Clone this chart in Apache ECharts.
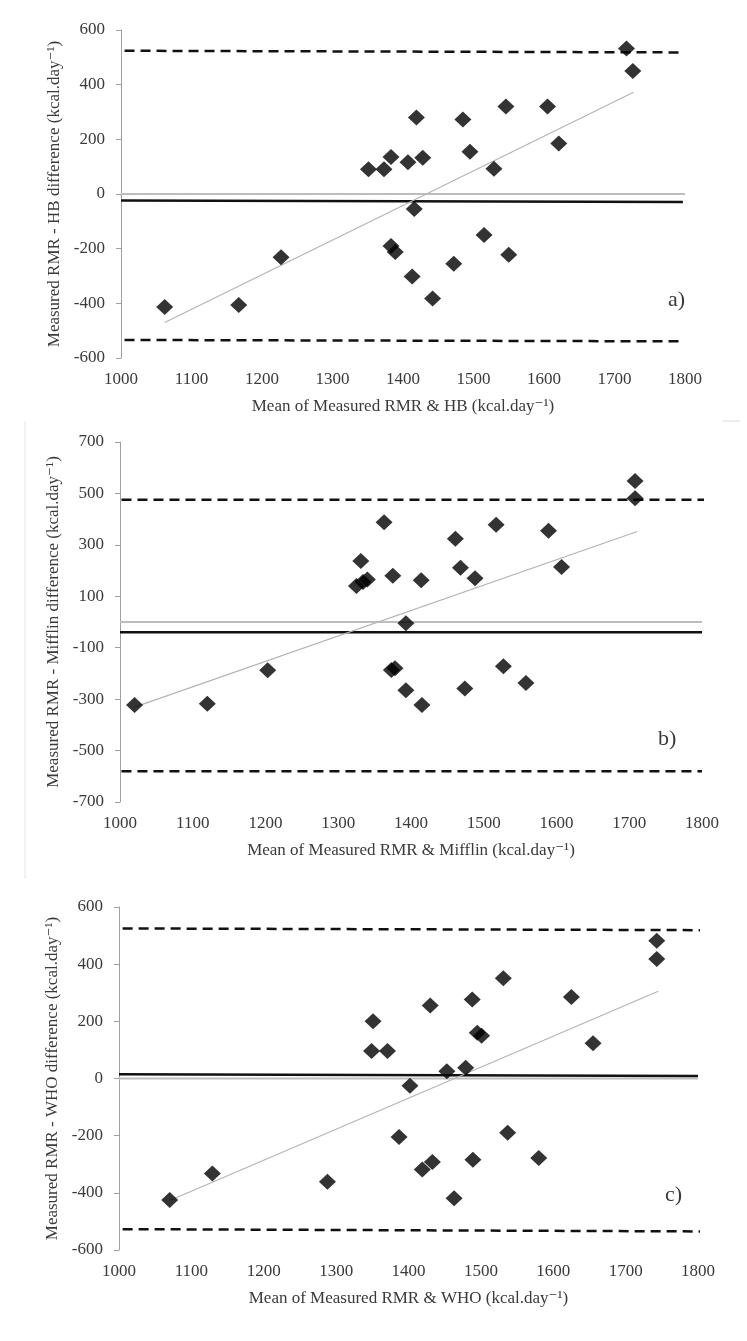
<!DOCTYPE html>
<html>
<head>
<meta charset="utf-8">
<script src="https://cdn.jsdelivr.net/npm/echarts@6/dist/echarts.min.js"></script>
<style>
html,body{margin:0;padding:0;background:#fff;}
#chart{width:747px;height:1341px;}
</style>
</head>
<body>
<div id="chart"></div>
<script>
// ---------- data ----------
// Panel a) Harris-Benedict
const hbMean = [1062,1167,1227,1351,1373,1383,1407,1419,1428,1416,1383,1389,1413,1442,1472,1485,1495,1515,1529,1546,1550,1605,1621,1717,1726];
const hbDiff = [-413,-406,-231,91,91,135,116,280,133,-55,-190,-212,-302,-382,-255,273,155,-150,92,320,-222,320,185,532,450];
const hbBias  = [[1000,-24],[1797,-29]];
const hbUpper = [[1005,524],[1793,518]];
const hbLower = [[1005,-534],[1793,-539]];
const hbTrend = [[1062,-470],[1727,372]];

// Panel b) Mifflin
const mifMean = [1020,1120,1203,1325,1331,1334,1340,1363,1375,1373,1378,1393,1393,1414,1415,1461,1468,1474,1488,1517,1527,1558,1589,1607,1708,1708];
const mifDiff = [-323,-318,-188,140,237,156,165,388,180,-187,-180,-5,-265,162,-323,324,211,-259,170,378,-172,-237,355,214,548,481];
const mifBias  = [[1000,-40],[1800,-40]];
const mifUpper = [[1002,475],[1808,475]];
const mifLower = [[1002,-580],[1800,-580]];
const mifTrend = [[1020,-331],[1711,352]];

// Panel c) WHO
const whoMean = [1070,1129,1288,1349,1351,1371,1387,1402,1419,1433,1430,1453,1463,1479,1488,1489,1495,1501,1531,1537,1580,1625,1655,1743,1743];
const whoDiff = [-425,-332,-361,96,200,96,-205,-25,-318,-292,255,25,-419,38,276,-284,160,150,351,-190,-278,285,123,482,418];
const whoBias  = [[1000,15],[1800,9]];
const whoUpper = [[1005,525],[1803,519]];
const whoLower = [[1005,-527],[1803,-535]];
const whoTrend = [[1070,-427],[1745,305]];

const zeroLine = [[1000,0],[1800,0]];

const xTitles = [
  'Mean of Measured RMR & HB (kcal.day\u207B\u00B9)',
  'Mean of Measured RMR & Mifflin (kcal.day\u207B\u00B9)',
  'Mean of Measured RMR & WHO (kcal.day\u207B\u00B9)'
];
const yTitles = [
  'Measured RMR - HB difference (kcal.day\u207B\u00B9)',
  'Measured RMR - Mifflin difference (kcal.day\u207B\u00B9)',
  'Measured RMR - WHO difference (kcal.day\u207B\u00B9)'
];
const panelLabels = ['a)','b)','c)'];
const yRanges = [[-600,600],[-700,700],[-600,600]];

// ---------- chart ----------
const FONT = '"Liberation Serif","DejaVu Serif",serif';
const TXT = '#3a3a3a';
const grids = [
  {left:121, width:564, top:30, height:328},
  {left:120, width:582, top:442, height:360},
  {left:119, width:579, top:907, height:343}
];

const xAxes = grids.map((g,i)=>({
  type:'value', gridIndex:i, min:1000, max:1800, interval:100,
  axisLine:{show:false}, axisTick:{show:false}, splitLine:{show:false},
  axisLabel:{color:TXT, fontFamily:FONT, fontSize:17, margin:13, formatter:v=>String(v)},
  name:xTitles[i], nameLocation:'middle', nameGap:40,
  nameTextStyle:{color:TXT, fontFamily:FONT, fontSize:17}
}));
const yAxes = grids.map((g,i)=>({
  type:'value', gridIndex:i, min:yRanges[i][0], max:yRanges[i][1], interval:200,
  axisLine:{show:true, onZero:false, lineStyle:{color:'#a0a0a0', width:1}},
  axisTick:{show:true, length:5, lineStyle:{color:'#a0a0a0'}},
  splitLine:{show:false},
  axisLabel:{color:TXT, fontFamily:FONT, fontSize:17, margin:16, formatter:v=>String(v)},
  name:yTitles[i], nameLocation:'middle', nameGap:52,
  nameTextStyle:{color:TXT, fontFamily:FONT, fontSize:17}
}));

function lineSeries(idx, data, color, width, type, z){
  return {type:'line', xAxisIndex:idx, yAxisIndex:idx, data:data, symbol:'none',
    silent:true, z:z, lineStyle:{color:color, width:width, type:type}};
}

const panels = [
  {mean:hbMean, diff:hbDiff, bias:hbBias, up:hbUpper, lo:hbLower, trend:hbTrend},
  {mean:mifMean, diff:mifDiff, bias:mifBias, up:mifUpper, lo:mifLower, trend:mifTrend},
  {mean:whoMean, diff:whoDiff, bias:whoBias, up:whoUpper, lo:whoLower, trend:whoTrend}
];

const series = [];
panels.forEach((p,i)=>{
  series.push(lineSeries(i, zeroLine, '#bdbdbd', 2, 'solid', 1));
  series.push(lineSeries(i, p.bias, '#111', 2.5, 'solid', 2));
  series.push(lineSeries(i, p.up, '#111', 2.5, [10,6], 2));
  series.push(lineSeries(i, p.lo, '#111', 2.5, [10,6], 2));
  series.push(lineSeries(i, p.trend, '#b4b4b4', 1.2, 'solid', 3));
  series.push({type:'scatter', xAxisIndex:i, yAxisIndex:i, symbol:'diamond', symbolSize:[17,16],
    itemStyle:{color:'#000'}, z:5, data:p.mean.map((m,k)=>[m,p.diff[k]])});
});

const labelPos = [[668,289],[658,728],[665,1184]];
const graphic = panelLabels.map((t,i)=>({
  type:'text', left:labelPos[i][0], top:labelPos[i][1],
  style:{text:t, fill:TXT, font:'22px ' + FONT}
}));
// faint page artefacts
graphic.push({type:'line', shape:{x1:723,y1:421,x2:740,y2:421}, style:{stroke:'#d8d8d8', lineWidth:1}});
graphic.push({type:'line', shape:{x1:25,y1:421,x2:25,y2:879}, style:{stroke:'#e4e4e4', lineWidth:1}});

const chart = echarts.init(document.getElementById('chart'), null, {renderer:'canvas'});
chart.setOption({
  animation:false,
  backgroundColor:'#fff',
  grid:grids,
  xAxis:xAxes,
  yAxis:yAxes,
  series:series,
  graphic:graphic
});
</script>
</body>
</html>
